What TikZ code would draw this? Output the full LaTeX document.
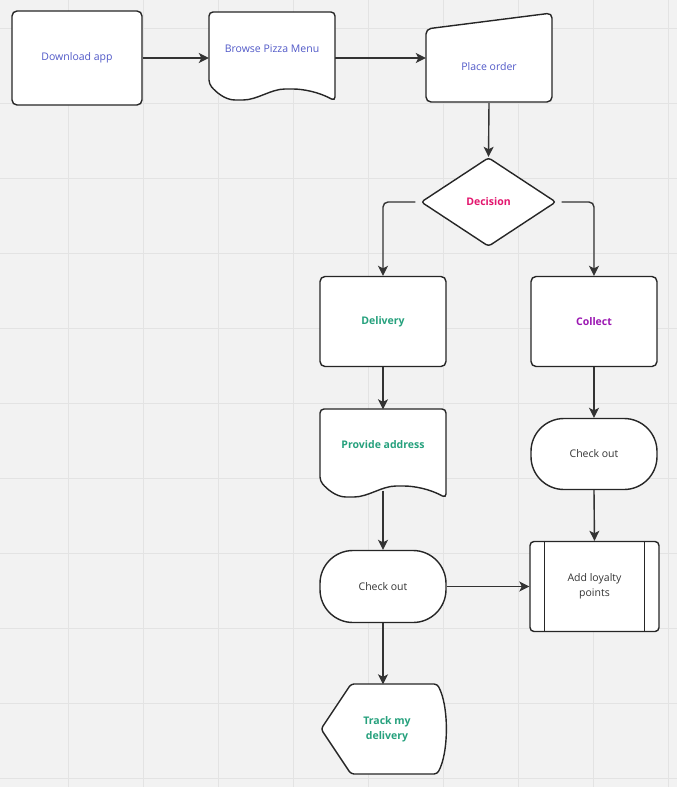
\documentclass[tikz,border=0pt]{standalone}
\usepackage{fontspec}
\setmainfont{Open Sans}
\usetikzlibrary{shapes.geometric,arrows.meta}
\definecolor{bggray}{HTML}{F2F2F2}
\definecolor{gridgray}{HTML}{E3E3E3}
\definecolor{edge}{HTML}{262626}
\definecolor{arrowgray}{HTML}{333333}
\definecolor{txtblue}{HTML}{5159C8}
\definecolor{txtpink}{HTML}{E3166E}
\definecolor{txtgreen}{HTML}{26A17D}
\definecolor{txtpurple}{HTML}{9B17B2}
\definecolor{txtdark}{HTML}{333333}
\tikzset{
  outline/.style={draw=edge, line width=1.4pt, fill=white},
  label/.style={align=center, inner sep=2pt, font=\fontsize{10.5}{15}\selectfont},
  strong/.style={label, font=\fontsize{10.5}{15}\selectfont\bfseries},
  procbox/.style={outline, label, rounded corners=5pt, minimum width=126pt, minimum height=90pt},
  termbox/.style={outline, label, rounded corners=33pt, minimum width=126pt, minimum height=71pt},
  decbox/.style={outline, strong, diamond, rounded corners=3pt, minimum width=135pt, minimum height=89pt},
  textonly/.style={label, minimum width=126pt},
  flowarrow/.style={draw=arrowgray, line width=1.4pt, -{Stealth[length=10pt,width=10pt,inset=2.5pt]}},
  gridline/.style={draw=gridgray, line width=1pt},
  docshape/.pic={
    \draw[outline, rounded corners=4pt] (0,0) -- (126,0) -- (126,89)
      .. controls (110,80) and (94,77) .. (80,77)
      .. controls (62,77) and (48,88) .. (30,88)
      .. controls (16,88) and (7,80) .. (0,72) -- cycle;
  }
}
\begin{document}
\begin{tikzpicture}[x=1pt, y=-1pt]
  \useasboundingbox (0,0) rectangle (677,787);
  % background grid
  \fill[bggray] (0,0) rectangle (677,787);
  \foreach \gx in {68,143,...,668}
    \draw[gridline] (\gx,0) -- (\gx,787);
  \foreach \gy in {28,103,...,778}
    \draw[gridline] (0,\gy) -- (677,\gy);

  % top row
  \node[procbox, minimum width=130pt, minimum height=94pt, text=txtblue] (download) at (77,58) {Download app};
  \pic at (209,12) {docshape};
  \node[textonly, minimum height=72pt, text=txtblue] (menu) at (272,49) {Browse Pizza Menu};
  \draw[outline, rounded corners=5pt] (426,29) -- (552,13) -- (552,102) -- (426,102) -- cycle;
  \node[textonly, minimum height=73pt, text=txtblue] (order) at (489,66.5) {Place order};

  % decision
  \node[decbox, text=txtpink] (decision) at (488.5,202) {Decision};

  % delivery branch
  \node[procbox, strong, text=txtgreen] (delivery) at (383,321.5) {Delivery};
  \pic at (320,409) {docshape};
  \node[textonly, strong, minimum height=71pt, text=txtgreen] (address) at (383,445) {Provide address};
  \node[termbox, minimum height=72pt, text=txtdark] (checkdel) at (383,586.5) {Check out};
  \draw[outline, rounded corners=3pt] (321,729) -- (351,684) -- (437,684)
    .. controls (449,705) and (449,753) .. (437,774) -- (351,774) -- cycle;
  \node[textonly, strong, minimum height=90pt, text=txtgreen] (track) at (387,729.5) {Track my\\delivery};

  % collect branch
  \node[procbox, strong, text=txtpurple] (collect) at (594,321.5) {Collect};
  \node[termbox, text=txtdark] (checkcol) at (594,454) {Check out};
  \node[procbox, rounded corners=4pt, minimum width=129pt, text=txtdark] (loyalty) at (594.5,586.5) {Add loyalty\\points};
  \draw[outline] ([xshift=15pt]loyalty.north west) -- ([xshift=15pt]loyalty.south west);
  \draw[outline] ([xshift=-15pt]loyalty.north east) -- ([xshift=-15pt]loyalty.south east);

  % arrows
  \draw[flowarrow] (download.east) -- (download.east -| menu.west);
  \draw[flowarrow] (download.east -| menu.east) -- (download.east -| order.west);
  \draw[flowarrow] (order.south) -- (decision.north);
  \draw[flowarrow, rounded corners=5pt] ([xshift=-5pt]decision.west) -| (delivery.north);
  \draw[flowarrow, rounded corners=5pt] ([xshift=5pt]decision.east) -| (collect.north);
  \draw[flowarrow] (delivery.south) -- (address.north);
  \draw[flowarrow] ([yshift=-10pt]address.south) -- (checkdel.north);
  \draw[flowarrow] (checkdel.south) -- (checkdel.south |- track.north);
  \draw[flowarrow] (checkdel.east) -- (loyalty.west);
  \draw[flowarrow] (collect.south) -- (checkcol.north);
  \draw[flowarrow] (checkcol.south) -- (loyalty.north);
\end{tikzpicture}
\end{document}
